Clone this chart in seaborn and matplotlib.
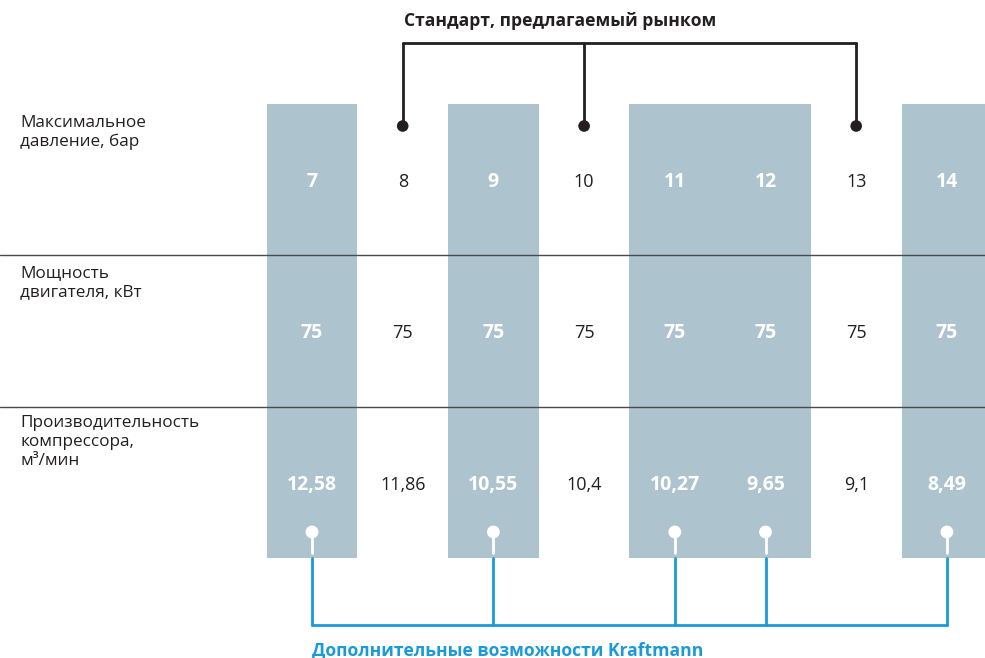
import pandas as pd
import matplotlib.pyplot as plt
import seaborn as sns

pressure = ['7', '8', '9', '10', '11', '12', '13', '14']
power = ['75', '75', '75', '75', '75', '75', '75', '75']
capacity = ['12,58', '11,86', '10,55', '10,4', '10,27', '9,65', '9,1', '8,49']
kraftmann = [True, False, True, False, True, True, False, True]
market_std = ['8', '10', '13']
row_labels = ['Максимальное\nдавление, бар',
              'Мощность\nдвигателя, кВт',
              'Производительность\nкомпрессора,\nм³/мин']
title_top = 'Стандарт, предлагаемый рынком'
title_bottom = 'Дополнительные возможности Kraftmann'

sns.set_theme(style='white')
plt.rcParams['font.family'] = ['Open Sans', 'DejaVu Sans']

SHADE = '#adc4cf'
BLUE = '#1a9ad6'
DARK = '#231f20'
COL_H = 454  # height of shaded column

df = pd.DataFrame({'pressure': pressure,
                   'h': [COL_H if k else 0 for k in kraftmann]})

fig = plt.figure(figsize=(9.85, 6.58), dpi=100)
ax = fig.add_axes([0, 0, 1, 1])
sns.barplot(data=df, x='pressure', y='h', order=pressure, color=SHADE,
            width=1.0, saturation=1, linewidth=0, ax=ax)

# layout helpers: column i center at pixel 312 + 90.7*i, y=0 at pixel 558
step = 90.7


def px(p):
    return (p - 312) / step


def py(p):
    return 558 - p


ax.set_xlim(px(0), px(985))
ax.set_ylim(py(658), py(0))
ax.axis('off')

# row separators
for p in (255, 407):
    ax.plot([px(0), px(985)], [py(p), py(p)], color='#4a4a4a', lw=1.0,
            zorder=3)

# row labels
for lab, p in zip(row_labels, (115, 265, 415)):
    ax.text(px(20), py(p), lab, ha='left', va='top', fontsize=12.3,
            color=DARK, linespacing=1.25)

# values
for vals, p in zip((pressure, power, capacity), (182, 333, 485)):
    for i, v in enumerate(vals):
        if kraftmann[i]:
            ax.text(i, py(p), v, ha='center', va='center', fontsize=14,
                    fontweight='bold', color='white')
        else:
            ax.text(i, py(p), v, ha='center', va='center', fontsize=13,
                    color=DARK)

# market standard bracket
std_idx = [pressure.index(s) for s in market_std]
ax.plot([min(std_idx), max(std_idx)], [py(43), py(43)], color=DARK, lw=2,
        zorder=4)
for i in std_idx:
    ax.plot([i, i], [py(43), py(126)], color=DARK, lw=2, zorder=4)
sns.scatterplot(x=std_idx, y=[py(126)] * len(std_idx), s=70, color=DARK,
                edgecolor='none', ax=ax, zorder=5)
ax.text(px(560), py(21), title_top, ha='center', va='center',
        fontsize=12.6, fontweight='bold', color=DARK)

# kraftmann bracket
k_idx = [i for i, k in enumerate(kraftmann) if k]
ax.plot([min(k_idx), max(k_idx)], [py(625), py(625)], color=BLUE, lw=2,
        zorder=4)
for i in k_idx:
    ax.plot([i, i], [py(558), py(625)], color=BLUE, lw=2, zorder=4)
    ax.plot([i, i], [py(532), py(553)], color='white', lw=2, zorder=4)
sns.scatterplot(x=k_idx, y=[py(532)] * len(k_idx), s=85, color='white',
                edgecolor='none', ax=ax, zorder=5)
ax.text(px(508), py(650), title_bottom, ha='center', va='center',
        fontsize=12.6, fontweight='bold', color=BLUE)

fig.savefig('out.png', dpi=100)
